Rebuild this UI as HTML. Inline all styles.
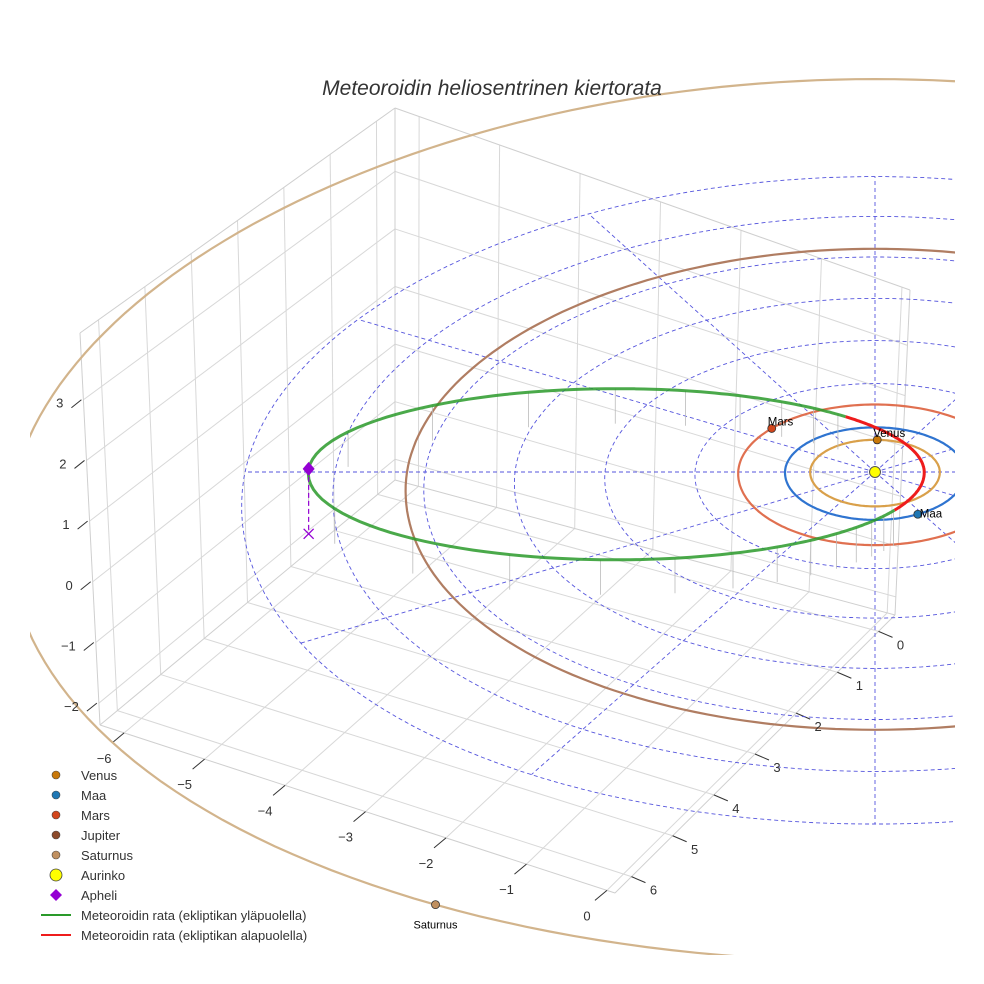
<!DOCTYPE html>
<html><head><meta charset="utf-8">
<style>
html,body{margin:0;padding:0;background:#fff;}
svg{display:block;font-family:"Liberation Sans",sans-serif;}
</style></head>
<body>
<svg id="chart" width="984" height="984" viewBox="0 0 984 984" xmlns="http://www.w3.org/2000/svg">
<defs><clipPath id="clip"><rect x="30" y="0" width="925" height="955"/></clipPath></defs>
<rect width="984" height="984" fill="#fff"/>
<g id="box"></g>
<g id="plot" clip-path="url(#clip)"></g>
<g id="labels"></g>
<text x="492" y="95" text-anchor="middle" font-size="21" font-style="italic" fill="#333">Meteoroidin heliosentrinen kiertorata</text>
<g id="legend"></g>
</svg>
<script>
// ---- data ----
const planetNames = ["Venus","Maa","Mars","Jupiter","Saturnus"];
const planetRadii = [0.72, 1.0, 1.52, 5.2, 9.54];
const planetLongitudes = [-115, 35, -167, 0, 90];
const planetShowMarker = [true, true, true, false, true];
const orbitColors = ["#d9a04a","#2f74d0","#e07050","#b07d62","#d2b48c"];
const markerColors = ["#c8780a","#1f77b4","#d2461c","#8c4a2a","#c09060"];
const meteoroidA = 3.42;
const meteoroidE = 0.84;
const meteoroidIncl = 0.6;
const meteoroidPeriLong = -27;
const meteoroidArgPeri = -75;
const gridRadii = [1,2,3,4,5,6,7];
const gridAngles = [0,30,60,90,120,150,180,210,240,270,300,330];
const xTicks = [-6,-5,-4,-3,-2,-1,0];
const yTicks = [0,1,2,3,4,5,6];
const zTicks = [-2,-1,0,1,2,3];
const xRange = [-6.3, 0.1], yRange = [-0.4, 6.4], zRange = [-2.36, 4.1];

const NS = "http://www.w3.org/2000/svg";
function mk(tag, attrs, parent){const e=document.createElementNS(NS,tag);for(const k in attrs)e.setAttribute(k,attrs[k]);parent.appendChild(e);return e;}
const ROT = 27*Math.PI/180;
const SX = 875, SY = 472;
function proj(x,y,z){
  const X = Math.cos(ROT)*x - Math.sin(ROT)*y;
  const D = Math.sin(ROT)*x + Math.cos(ROT)*y;
  const dy = D<0 ? 45*D + 0.4*D*D : 47.5*D + 0.4*D*D;
  return [SX + 90*X*(1+0.015*D), SY + dy - 50*z];
}
function pathFrom(pts){return pts.map((p,i)=>(i?"L":"M")+p[0].toFixed(1)+","+p[1].toFixed(1)).join("");}

// ---- box (walls & floor) ----
const box = document.getElementById("box");
const C = {FLT:[80,333],FLB:[100,725],BLT:[395,108],BLB:[395,480],BRT:[910,290],BRB:[895,615],FRB:[615,893]};
function bl(a,b,c,d,u,v){
  return [a[0]*(1-u)*(1-v)+b[0]*u*(1-v)+c[0]*u*v+d[0]*(1-u)*v, a[1]*(1-u)*(1-v)+b[1]*u*(1-v)+c[1]*u*v+d[1]*(1-u)*v];}
const fu = x=>(x-xRange[0])/(xRange[1]-xRange[0]);
const fv = y=>(y-yRange[0])/(yRange[1]-yRange[0]);
const fw = z=>(z-zRange[0])/(zRange[1]-zRange[0]);
function line(p,q,col,w,name){const l=mk("line",{x1:p[0],y1:p[1],x2:q[0],y2:q[1],stroke:col,"stroke-width":w},box);}
const floorP=(u,v)=>bl(C.BLB,C.BRB,C.FRB,C.FLB,u,v);
const leftP=(u,v)=>bl(C.BLB,C.FLB,C.FLT,C.BLT,u,v);
const backP=(u,v)=>bl(C.BLB,C.BRB,C.BRT,C.BLT,u,v);
xTicks.forEach(t=>{line(floorP(fu(t),0),floorP(fu(t),1),"#d8d8d8",1,"floor-grid-x");line(backP(fu(t),0),backP(fu(t),1),"#d8d8d8",1,"back-grid-x");});
yTicks.forEach(t=>{line(floorP(0,fv(t)),floorP(1,fv(t)),"#d8d8d8",1,"floor-grid-y");line(leftP(fv(t),0),leftP(fv(t),1),"#d8d8d8",1,"left-grid-y");});
zTicks.forEach(t=>{line(leftP(0,fw(t)),leftP(1,fw(t)),"#d8d8d8",1,"left-grid-z");line(backP(0,fw(t)),backP(1,fw(t)),"#d8d8d8",1,"back-grid-z");});
[[C.FLB,C.FRB],[C.FRB,C.BRB],[C.FLB,C.FLT],[C.BLB,C.BLT],[C.BRB,C.BRT],[C.BLT,C.BRT],[C.FLT,C.BLT],[C.BLB,C.BRB],[C.BLB,C.FLB]].forEach(e=>line(e[0],e[1],"#cfcfcf",1,"box-edge"));

// ---- axis ticks/labels ----
const lab = document.getElementById("labels");
function txt(x,y,s,name,anchor,size,g){const t=mk("text",{x:x,y:y,"font-size":size||13,fill:"#333","text-anchor":anchor||"middle"},g||lab);t.textContent=s;return t;}
xTicks.forEach(t=>{const p=floorP(fu(t),1);line(p,[p[0]-12,p[1]+10],"#333",1,"x-tick");txt(p[0]-20,p[1]+30,t<0?"\u2212"+(-t):""+t,"x-tick-label");});
yTicks.forEach(t=>{const p=floorP(1,fv(t));line(p,[p[0]+14,p[1]+6],"#333",1,"y-tick");txt(p[0]+22,p[1]+18,""+t,"y-tick-label");});
zTicks.forEach(t=>{const p=leftP(1,fw(t));line([p[0]-2,p[1]],[p[0]-12,p[1]+8],"#333",1,"z-tick");txt(p[0]-20,p[1]+8,t<0?"\u2212"+(-t):""+t,"z-tick-label","end");});

// ---- plot ----
const plot = document.getElementById("plot");
gridRadii.forEach(r=>{const pts=[];for(let i=0;i<=180;i++){const a=i*2*Math.PI/180;pts.push(proj(r*Math.cos(a),r*Math.sin(a),0));}
  const p=mk("path",{d:pathFrom(pts),fill:"none",stroke:"#5555dd","stroke-width":0.9,"stroke-dasharray":"4,3"},plot);
  });
const gMax = gridRadii[gridRadii.length-1];
gridAngles.forEach(ang=>{const a=ang*Math.PI/180-ROT; const q=[Math.cos(a)*gMax,Math.sin(a)*gMax];
  const p0=proj(0,0,0),p1=proj(q[0],q[1],0);
  const p=mk("line",{x1:p0[0],y1:p0[1],x2:p1[0],y2:p1[1],stroke:"#5555dd","stroke-width":0.9,"stroke-dasharray":"4,3"},plot);
  });
planetRadii.forEach((r,i)=>{const pts=[];for(let k=0;k<=240;k++){const a=k*2*Math.PI/240;pts.push(proj(r*Math.cos(a),r*Math.sin(a),0));}
  const p=mk("path",{d:pathFrom(pts),fill:"none",stroke:orbitColors[i],"stroke-width":2.2},plot);
  });
// meteoroid orbit
const pL=meteoroidPeriLong*Math.PI/180, inc=meteoroidIncl*Math.PI/180, w=meteoroidArgPeri*Math.PI/180;
function metPoint(nu){
  const r=meteoroidA*(1-meteoroidE*meteoroidE)/(1+meteoroidE*Math.cos(nu));
  const ang=nu+pL;
  const z=r*Math.sin(inc)*Math.sin(nu+w);
  return [r*Math.cos(ang),r*Math.sin(ang),z];
}
const N=360; const mpts=[];
for(let k=0;k<=N;k++){const nu=-Math.PI+k*2*Math.PI/N;mpts.push(metPoint(nu));}
for(let k=0;k<N;k+=8){const q=mpts[k];if(q[2]<0)continue;const a=proj(q[0],q[1],q[2]),b=proj(q[0],q[1],q[2]-0.7);
  const l=mk("line",{x1:a[0],y1:a[1],x2:b[0],y2:b[1],stroke:"#bbb","stroke-width":0.8},plot);
  }
let seg=[],segAbove=null;
function flush(){if(seg.length>1){const p=mk("path",{d:pathFrom(seg),fill:"none",stroke:segAbove?"#2a9a2a":"#ee1c1c","stroke-width":3,"stroke-opacity":segAbove?0.85:1},plot);
  }}
mpts.forEach(q=>{const above=q[2]>=0;const s=proj(q[0],q[1],q[2]);if(segAbove===null)segAbove=above;
  if(above!==segAbove){seg.push(s);flush();seg=[s];segAbove=above;}else seg.push(s);});
flush();
const aph=metPoint(Math.PI); const ap=proj(aph[0],aph[1],aph[2]); const apx=proj(aph[0],aph[1],aph[2]-1.3);
let e=mk("line",{x1:ap[0],y1:ap[1],x2:apx[0],y2:apx[1],stroke:"#9400d3","stroke-width":1.2,"stroke-dasharray":"5,3"},plot);

e=mk("path",{d:`M${apx[0]-5},${apx[1]-5}L${apx[0]+5},${apx[1]+5}M${apx[0]+5},${apx[1]-5}L${apx[0]-5},${apx[1]+5}`,stroke:"#9400d3","stroke-width":1.3,fill:"none"},plot);

e=mk("path",{d:`M${ap[0]},${ap[1]-7}L${ap[0]+6},${ap[1]}L${ap[0]},${ap[1]+7}L${ap[0]-6},${ap[1]}Z`,fill:"#9400d3"},plot);

const sp=proj(0,0,0);
e=mk("circle",{cx:sp[0],cy:sp[1],r:5.5,fill:"#ffff00",stroke:"#555","stroke-width":1},plot);

planetRadii.forEach((r,i)=>{if(!planetShowMarker[i])return;const a=planetLongitudes[i]*Math.PI/180;const p=proj(r*Math.cos(a),r*Math.sin(a),0);
  const c=mk("circle",{cx:p[0],cy:p[1],r:4,fill:markerColors[i],stroke:"#333","stroke-width":0.8},plot);
  
  let t;
  if(planetNames[i]==="Saturnus") t=txt(p[0],p[1]+24,planetNames[i],"planet-label","middle",11,plot);
  else if(planetNames[i]==="Maa") t=txt(p[0]+2,p[1]+3,planetNames[i],"planet-label","start",11.5,plot);
  else t=txt(p[0]-4,p[1]-3,planetNames[i],"planet-label","start",11.5,plot);
  t.setAttribute('fill','#000');});

// ---- legend ----
const lg=document.getElementById("legend");
const legendItems=[["Venus","dot",markerColors[0]],["Maa","dot",markerColors[1]],["Mars","dot",markerColors[2]],["Jupiter","dot",markerColors[3]],["Saturnus","dot",markerColors[4]],["Aurinko","sun","#ffff00"],["Apheli","diamond","#9400d3"],["Meteoroidin rata (ekliptikan yläpuolella)","line","#2a9a2a"],["Meteoroidin rata (ekliptikan alapuolella)","line","#ee1c1c"]];
legendItems.forEach((it,i)=>{const y=775+i*20;let m;
  if(it[1]==="dot")m=mk("circle",{cx:56,cy:y,r:4,fill:it[2],stroke:"#444","stroke-width":0.6},lg);
  else if(it[1]==="sun")m=mk("circle",{cx:56,cy:y,r:6,fill:it[2],stroke:"#444","stroke-width":0.8},lg);
  else if(it[1]==="diamond")m=mk("path",{d:`M56,${y-6}L62,${y}L56,${y+6}L50,${y}Z`,fill:it[2]},lg);
  else m=mk("line",{x1:41,y1:y,x2:71,y2:y,stroke:it[2],"stroke-width":2},lg);
  
  const t=txt(81,y+5,it[0],"legend-entry","start",13,lg);});
</script>
</body></html>
